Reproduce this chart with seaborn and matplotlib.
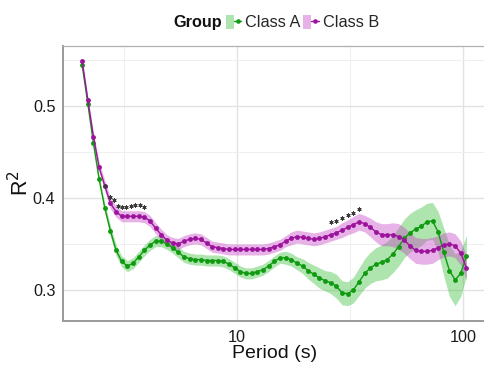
import numpy as np
import pandas as pd
import matplotlib
matplotlib.use("Agg")
import matplotlib.pyplot as plt
import seaborn as sns
from matplotlib.patches import Patch
from matplotlib.lines import Line2D
from matplotlib.legend_handler import HandlerTuple

# Periods (s), log-spaced at 40 steps per decade
period = [2.065, 2.188, 2.317, 2.455, 2.600, 2.754, 2.917, 3.090, 3.273, 3.467,
          3.673, 3.890, 4.121, 4.365, 4.624, 4.898, 5.188, 5.495, 5.821, 6.166,
          6.531, 6.918, 7.328, 7.762, 8.222, 8.710, 9.226, 9.772, 10.35, 10.96,
          11.61, 12.30, 13.03, 13.80, 14.62, 15.49, 16.41, 17.38, 18.41, 19.50,
          20.65, 21.88, 23.17, 24.55, 26.00, 27.54, 29.17, 30.90, 32.73, 34.67,
          36.73, 38.90, 41.21, 43.65, 46.24, 48.98, 51.88, 54.95, 58.21, 61.66,
          65.31, 69.18, 73.28, 77.62, 82.22, 87.10, 92.26, 97.72, 103.5]

class_a = [0.544, 0.502, 0.459, 0.420, 0.389, 0.364, 0.343, 0.331, 0.326, 0.329,
           0.336, 0.343, 0.349, 0.353, 0.353, 0.350, 0.346, 0.341, 0.336, 0.334,
           0.333, 0.333, 0.332, 0.332, 0.332, 0.331, 0.328, 0.324, 0.320, 0.318,
           0.318, 0.320, 0.322, 0.326, 0.331, 0.335, 0.335, 0.333, 0.329, 0.326,
           0.321, 0.317, 0.313, 0.310, 0.308, 0.304, 0.297, 0.296, 0.300, 0.309,
           0.318, 0.324, 0.328, 0.330, 0.333, 0.339, 0.347, 0.356, 0.362, 0.366,
           0.369, 0.374, 0.375, 0.363, 0.341, 0.321, 0.311, 0.318, 0.337]

class_b = [0.548, 0.506, 0.466, 0.433, 0.413, 0.394, 0.385, 0.380, 0.380, 0.380,
           0.380, 0.379, 0.375, 0.367, 0.360, 0.354, 0.351, 0.350, 0.353, 0.355,
           0.356, 0.355, 0.351, 0.347, 0.346, 0.345, 0.344, 0.344, 0.344, 0.344,
           0.344, 0.344, 0.344, 0.345, 0.347, 0.349, 0.353, 0.356, 0.358, 0.357,
           0.356, 0.355, 0.356, 0.358, 0.360, 0.362, 0.365, 0.368, 0.371, 0.374,
           0.372, 0.368, 0.363, 0.360, 0.360, 0.360, 0.358, 0.354, 0.348, 0.343,
           0.342, 0.342, 0.343, 0.346, 0.349, 0.350, 0.348, 0.340, 0.324]

# Half-widths of the confidence bands
class_a_ci = [0.003, 0.003, 0.004, 0.004, 0.005, 0.006, 0.006, 0.006, 0.006, 0.006,
              0.006, 0.006, 0.006, 0.006, 0.006, 0.006, 0.006, 0.006, 0.006, 0.006,
              0.006, 0.006, 0.006, 0.006, 0.006, 0.006, 0.006, 0.006, 0.006, 0.006,
              0.006, 0.006, 0.006, 0.006, 0.006, 0.006, 0.007, 0.007, 0.007, 0.008,
              0.009, 0.010, 0.011, 0.011, 0.012, 0.013, 0.013, 0.013, 0.014, 0.015,
              0.016, 0.017, 0.018, 0.019, 0.020, 0.020, 0.021, 0.021, 0.021, 0.021,
              0.021, 0.020, 0.020, 0.022, 0.026, 0.028, 0.028, 0.025, 0.022]

class_b_ci = [0.003, 0.003, 0.004, 0.005, 0.006, 0.006, 0.006, 0.006, 0.006, 0.006,
              0.006, 0.006, 0.006, 0.006, 0.006, 0.006, 0.006, 0.006, 0.006, 0.006,
              0.006, 0.006, 0.006, 0.006, 0.006, 0.006, 0.006, 0.006, 0.006, 0.006,
              0.006, 0.006, 0.006, 0.006, 0.006, 0.006, 0.006, 0.007, 0.007, 0.007,
              0.007, 0.007, 0.007, 0.007, 0.007, 0.007, 0.008, 0.008, 0.009, 0.009,
              0.009, 0.010, 0.011, 0.012, 0.012, 0.013, 0.014, 0.014, 0.014, 0.014,
              0.014, 0.014, 0.014, 0.013, 0.013, 0.013, 0.013, 0.013, 0.013]

# Periods flagged as significant
star_period = [2.614, 2.728, 2.842, 2.960, 3.089, 3.228, 3.379, 3.538, 3.704, 3.877,
               26.00, 27.54, 29.17, 30.90, 32.73, 34.67]
star_r2 = [0.413, 0.401, 0.398, 0.391, 0.390, 0.390, 0.391, 0.392, 0.392, 0.390,
           0.3735, 0.375, 0.378, 0.381, 0.384, 0.3876]

groups = ["Class A", "Class B"]
line_colors = {"Class A": "#0f9a0f", "Class B": "#9c149c"}
band_colors = {"Class A": "#3fbf3f", "Class B": "#c848c8"}
band_alpha = 0.42

n = len(period)
df = pd.DataFrame({
    "Period": period * 2,
    "R2": class_a + class_b,
    "ci": class_a_ci + class_b_ci,
    "Group": ["Class A"] * n + ["Class B"] * n,
})

sns.set_theme(style="white")
plt.rcParams["font.family"] = ["Liberation Sans", "DejaVu Sans"]

W, H = 485, 366
fig = plt.figure(figsize=(W / 100, H / 100), dpi=100)
left, right, top, bottom = 63.1, 485.7, 46.0, 320.5
ax = fig.add_axes([left / W, 1 - bottom / H, (right - left) / W, (bottom - top) / H])

# Confidence ribbons
for g in groups:
    sub = df[df["Group"] == g]
    ax.fill_between(sub["Period"], sub["R2"] - sub["ci"], sub["R2"] + sub["ci"],
                    color=band_colors[g], alpha=band_alpha, lw=0, zorder=2)

# Mean curves with points
sns.lineplot(data=df, x="Period", y="R2", hue="Group", palette=line_colors,
             estimator=None, errorbar=None, marker="o", markersize=3.5,
             markeredgewidth=0, linewidth=1.0, legend=False, ax=ax, zorder=3)

# Significance marks
ax.scatter(star_period, star_r2, marker=(6, 2, 0), s=6, color="#3a3a3a",
           linewidths=0.7, zorder=4)

ax.set_xscale("log")
ax.set_xlim(1.70, 126.0)
ax.set_ylim(0.2669, 0.5648)

ax.set_xticks([10, 100])
ax.set_xticklabels(["10", "100"])
ax.set_xticks([10 ** 0.5, 10 ** 1.5], minor=True)
ax.set_yticks([0.3, 0.4, 0.5])
ax.set_yticklabels(["0.3", "0.4", "0.5"])
ax.set_yticks([0.35, 0.45, 0.55], minor=True)

ax.grid(True, which="major", color="#e2e2e2", linewidth=1.0, zorder=0)
ax.grid(True, which="minor", color="#efefef", linewidth=0.7, zorder=0)
ax.set_axisbelow(True)

ax.tick_params(axis="both", which="major", length=4, width=1.0, color="#666666",
               labelsize=11.7, labelcolor="#1c1c1c", pad=1.5)
ax.tick_params(axis="x", which="major", pad=2.5)
ax.tick_params(axis="both", which="minor", length=0)

for side in ["left", "bottom"]:
    ax.spines[side].set_color("#9a9a9a")
    ax.spines[side].set_linewidth(1.4)
ax.spines["top"].set_color("#b0b0b0")
ax.spines["top"].set_linewidth(0.9)
ax.spines["right"].set_visible(False)

ax.set_xlabel("Period (s)", fontsize=14, color="#111111", labelpad=0)
ax.set_ylabel(r"R$^2$", fontsize=15.5, color="#111111", labelpad=0)

# Legend across the top
fig.text(173 / W, 1 - 22.7 / H, "Group", fontsize=11.7, fontweight="bold",
         ha="left", va="center", color="#111111")
handles = []
for g in groups:
    handles.append((Patch(facecolor=band_colors[g], alpha=band_alpha, edgecolor="none"),
                    Line2D([], [], color=line_colors[g], marker="o", markersize=3.3,
                           markeredgewidth=0, linewidth=1.0)))
fig.legend(handles, groups, handler_map={tuple: HandlerTuple(ndivide=None, pad=0)},
           loc="center left", bbox_to_anchor=(226 / W, 1 - 22.7 / H), ncol=2,
           frameon=False, fontsize=11.7, handlelength=0.95, handleheight=0.95,
           handletextpad=0.25, columnspacing=0.15, borderpad=0, borderaxespad=0,
           numpoints=1)

fig.savefig("out.png", dpi=100)
